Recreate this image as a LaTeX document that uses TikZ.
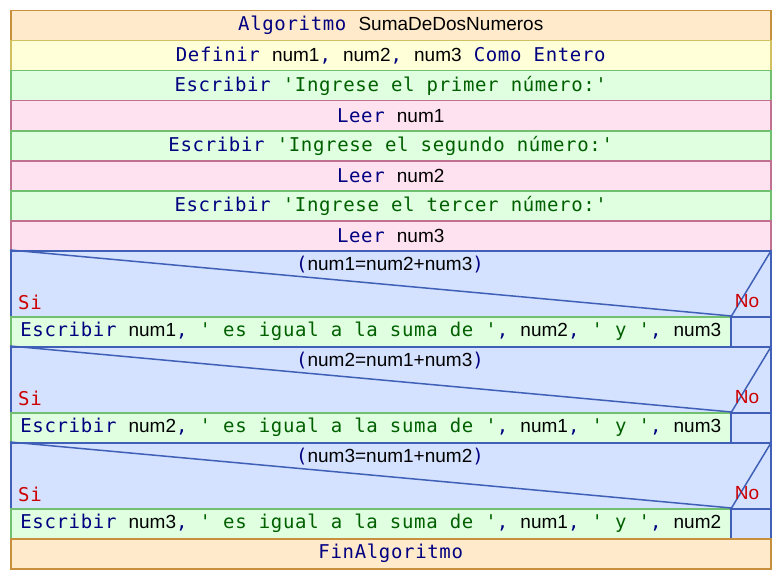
\documentclass[tikz,border=0pt]{standalone}
\usepackage{fontspec}
\setmainfont{Liberation Sans}
\newfontfamily\monof[LetterSpace=3.5]{DejaVu Sans Mono}
\definecolor{kwc}{HTML}{000080}
\definecolor{strc}{HTML}{006000}
\definecolor{redc}{HTML}{CC0000}
\definecolor{hdrf}{HTML}{FFEBCC}
\definecolor{hdrd}{HTML}{C8903C}
\definecolor{deff}{HTML}{FFFFD8}
\definecolor{defd}{HTML}{D0C060}
\definecolor{escf}{HTML}{E0FFE0}
\definecolor{escd}{HTML}{70C070}
\definecolor{leef}{HTML}{FFE2F0}
\definecolor{leed}{HTML}{C07090}
\definecolor{iff}{HTML}{D4E2FF}
\definecolor{ifd}{HTML}{4060B8}
\newcommand\kw[1]{{\monof\color{kwc}#1}}
\newcommand\st[1]{{\monof\color{strc}#1}}
\newcommand\idn[1]{{\color{black}#1}}
\tikzset{
  box/.style={rectangle, inner sep=0pt, anchor=north west, line width=1.5pt, minimum height=30pt, font=\fontsize{19}{21}\selectfont},
  hdrbox/.style={box, draw=hdrd, fill=hdrf, minimum width=760pt},
  defbox/.style={box, draw=defd, fill=deff, minimum width=760pt},
  escbox/.style={box, draw=escd, fill=escf, minimum width=760pt},
  leebox/.style={box, draw=leed, fill=leef, minimum width=760pt},
  ifbox/.style={box, draw=ifd, fill=iff, minimum width=760pt, minimum height=66pt},
  escin/.style={box, draw=escd, fill=escf, minimum width=720pt},
  emptycell/.style={box, draw=ifd, fill=iff, minimum width=40pt},
  diag/.style={draw=ifd, line width=1.5pt},
  lbl/.style={inner sep=0pt, font=\fontsize{19}{21}\selectfont},
  silbl/.style={inner sep=0pt, text=redc, anchor=west, font=\fontsize{19}{21}\selectfont\monof},
  nolbl/.style={inner sep=0pt, text=redc, font=\fontsize{19}{21}\selectfont}
}
\begin{document}
\begin{tikzpicture}[x=1pt,y=-1pt]
\useasboundingbox (0,0) rectangle (780,578);
\node[hdrbox] (r1) at (10,10) {\kw{Algoritmo\ }\idn{SumaDeDosNumeros}};
\node[defbox] (r2) at (10,40) {\kw{Definir\ }\idn{num1}\kw{,\ }\idn{num2}\kw{,\ }\idn{num3}\kw{\ Como Entero}};
\node[escbox] (r3) at (10,70) {\kw{Escribir\ }\st{'Ingrese el primer número:'}};
\node[leebox] (r4) at (10,100) {\kw{Leer\ }\idn{num1}};
\node[escbox] (r5) at (10,130) {\kw{Escribir\ }\st{'Ingrese el segundo número:'}};
\node[leebox] (r6) at (10,160) {\kw{Leer\ }\idn{num2}};
\node[escbox] (r7) at (10,190) {\kw{Escribir\ }\st{'Ingrese el tercer número:'}};
\node[leebox] (r8) at (10,220) {\kw{Leer\ }\idn{num3}};
% if 1
\node[ifbox] (c1) at (10,250) {};
\node[escin] (e1) at (10,316) {\kw{Escribir\ }\idn{num1}\kw{,\ }\st{' es igual a la suma de '}\kw{,\ }\idn{num2}\kw{,\ }\st{' y '}\kw{,\ }\idn{num3}};
\node[emptycell] (x1) at (730,316) {};
\draw[diag] (c1.north west) -- (e1.north east) -- (c1.north east);
\node[lbl] (t1) at (390,265) {\kw{(}\idn{num1=num2+num3}\kw{)}};
\node[silbl] (s1) at (18,302) {Si};
\node[nolbl] (n1) at (747,301) {No};
% if 2
\node[ifbox] (c2) at (10,346) {};
\node[escin] (e2) at (10,412) {\kw{Escribir\ }\idn{num2}\kw{,\ }\st{' es igual a la suma de '}\kw{,\ }\idn{num1}\kw{,\ }\st{' y '}\kw{,\ }\idn{num3}};
\node[emptycell] (x2) at (730,412) {};
\draw[diag] (c2.north west) -- (e2.north east) -- (c2.north east);
\node[lbl] (t2) at (390,361) {\kw{(}\idn{num2=num1+num3}\kw{)}};
\node[silbl] (s2) at (18,398) {Si};
\node[nolbl] (n2) at (747,397) {No};
% if 3
\node[ifbox] (c3) at (10,442) {};
\node[escin] (e3) at (10,508) {\kw{Escribir\ }\idn{num3}\kw{,\ }\st{' es igual a la suma de '}\kw{,\ }\idn{num1}\kw{,\ }\st{' y '}\kw{,\ }\idn{num2}};
\node[emptycell] (x3) at (730,508) {};
\draw[diag] (c3.north west) -- (e3.north east) -- (c3.north east);
\node[lbl] (t3) at (390,457) {\kw{(}\idn{num3=num1+num2}\kw{)}};
\node[silbl] (s3) at (18,494) {Si};
\node[nolbl] (n3) at (747,493) {No};
\node[hdrbox] (r9) at (10,538) {\kw{FinAlgoritmo}};
\end{tikzpicture}
\end{document}
